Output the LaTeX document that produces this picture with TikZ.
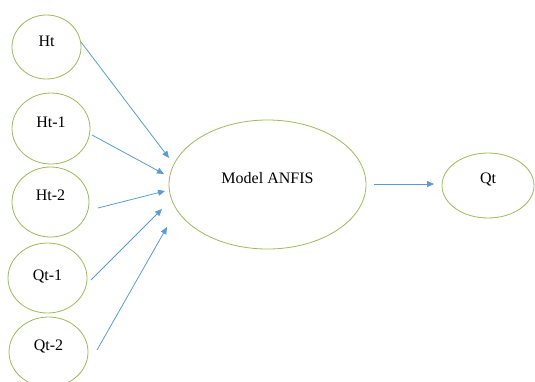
\documentclass[tikz,border=0pt]{standalone}
\usepackage{fontspec}
\setmainfont{Liberation Serif}
\usetikzlibrary{shapes.geometric,arrows.meta}
\definecolor{ellgreen}{HTML}{9BBB59}
\definecolor{arrblue}{HTML}{5B9BD5}
\begin{document}
\begin{tikzpicture}[x=1pt,y=-1pt,
  ell/.style={draw=ellgreen,line width=0.8pt,ellipse,inner sep=0pt,font=\fontsize{16}{18}\selectfont},
  arr/.style={draw=arrblue,line width=0.8pt,-{Triangle[length=7pt,width=6pt]}}]
\useasboundingbox (0,0) rectangle (535,381);
\node[ell,minimum width=69pt,minimum height=64pt] (Ht) at (46.5,47) {};
\node[font=\fontsize{16}{18}\selectfont] (tHt) at (46.5,41) {Ht};
\node[ell,minimum width=78pt,minimum height=71pt] (Ht1) at (51,128.5) {};
\node[font=\fontsize{16}{18}\selectfont] (tHt1) at (51,122) {Ht-1};
\node[ell,minimum width=77pt,minimum height=70pt] (Ht2) at (50.5,202) {};
\node[font=\fontsize{16}{18}\selectfont] (tHt2) at (50.5,195) {Ht-2};
\node[ell,minimum width=79pt,minimum height=70pt] (Qt1) at (47.5,278) {};
\node[font=\fontsize{16}{18}\selectfont] (tQt1) at (47.5,276) {Qt-1};
\node[ell,minimum width=79pt,minimum height=70pt] (Qt2) at (48.5,352) {};
\node[font=\fontsize{16}{18}\selectfont] (tQt2) at (48.5,346) {Qt-2};
\node[ell,minimum width=197pt,minimum height=129pt] (anfis) at (267.5,184.5) {};
\node[font=\fontsize{16}{18}\selectfont] (tanfis) at (267.5,178) {Model ANFIS};
\node[ell,minimum width=92pt,minimum height=65pt] (Qt) at (488,185.5) {};
\node[font=\fontsize{16}{18}\selectfont] (tQt) at (488,179) {Qt};
\coordinate (s1) at (81,42);
\coordinate (e1) at (169,158);
\coordinate (s2) at (92,135);
\coordinate (e2) at (164,174);
\coordinate (s3) at (98,208);
\coordinate (e3) at (165,191);
\coordinate (s4) at (91,280);
\coordinate (e4) at (162,209);
\coordinate (s5) at (97,350);
\coordinate (e5) at (167,227);
\coordinate (s6) at (374,184);
\coordinate (e6) at (434,184);
\draw[arr] (s1) -- (e1);
\draw[arr] (s2) -- (e2);
\draw[arr] (s3) -- (e3);
\draw[arr] (s4) -- (e4);
\draw[arr] (s5) -- (e5);
\draw[arr] (s6) -- (e6);
\end{tikzpicture}
\end{document}
